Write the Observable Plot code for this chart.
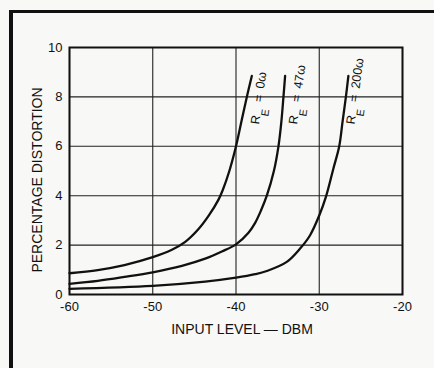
<!DOCTYPE html>
<html>
<head>
<meta charset="utf-8">
<script src="https://cdn.jsdelivr.net/npm/d3@7"></script>
<script src="https://cdn.jsdelivr.net/npm/@observablehq/plot@0.6"></script>
<style>
  html, body { margin: 0; padding: 0; background: #f8f8f6; }
  #wrap { position: relative; width: 434px; height: 368px; overflow: hidden; }
  #border { position: absolute; left: 9px; top: 10px; right: -10px; bottom: -10px;
            border-left: 4px solid #111; border-top: 3px solid #111; pointer-events: none; }
  #chart { position: absolute; left: 0; top: 0; }
</style>
</head>
<body>
<div id="wrap"><div id="chart"></div><div id="border"></div></div>
<script>
// Data
const xTicks = [-60, -50, -40, -30, -20];
const yTicks = [0, 2, 4, 6, 8, 10];

const seriesNames = ["R_E = 0ω", "R_E = 47ω", "R_E = 200ω"];

const inputLevel0 = [-60, -56.6, -53.4, -50, -47.7, -46.1, -44.5, -43.3, -42.1, -41.6, -40.8, -40.0, -39.35, -38.7, -38.1];
const distortion0 = [0.86, 0.99, 1.19, 1.51, 1.81, 2.13, 2.65, 3.18, 3.84, 4.22, 5.0, 6.0, 7.0, 8.0, 8.85];

const inputLevel47 = [-60, -56.6, -53.4, -50, -46.5, -43.7, -41.7, -40, -38.5, -37.7, -37.0, -36.3, -35.45, -34.9, -34.55, -34.3, -34.1];
const distortion47 = [0.43, 0.55, 0.71, 0.9, 1.16, 1.45, 1.74, 2.03, 2.5, 2.9, 3.4, 4.0, 5.0, 6.0, 7.0, 8.0, 8.85];

const inputLevel200 = [-60, -50, -43.7, -40, -37.7, -36.3, -33.9, -32.3, -31.1, -30, -29.2, -28.3, -27.6, -27.2, -26.8, -26.5];
const distortion200 = [0.23, 0.35, 0.52, 0.68, 0.82, 0.95, 1.32, 1.86, 2.4, 3.2, 3.95, 5.1, 6.0, 7.0, 8.0, 8.85];

// label anchor positions (data units)
const labelX = [-37.7, -33.15, -26.25];
const labelY = [6.9, 6.9, 6.9];

const rows = [];
[[inputLevel0, distortion0], [inputLevel47, distortion47], [inputLevel200, distortion200]].forEach(([xs, ys], i) => {
  xs.forEach((x, j) => rows.push({series: seriesNames[i], x, y: ys[j]}));
});
const labels = seriesNames.map((s, i) => ({text: s, x: labelX[i], y: labelY[i]}));

const fmt = d => (d < 0 ? "-" + Math.abs(d) : String(d));

const plot = Plot.plot({
  width: 434,
  height: 368,
  marginLeft: 69,
  marginRight: 32,
  marginTop: 47,
  marginBottom: 74,
  style: {fontFamily: "'Liberation Sans', Arial, sans-serif", fontSize: "13px", background: "transparent", color: "#111"},
  x: {domain: [-60, -20], ticks: xTicks, tickFormat: fmt, tickSize: 0, tickPadding: 7, label: null},
  y: {domain: [0, 10], ticks: yTicks, tickFormat: fmt, tickSize: 0, tickPadding: 7, label: null},
  marks: [
    Plot.ruleX(xTicks, {stroke: "#222", strokeWidth: 1.1}),
    Plot.ruleY(yTicks, {stroke: "#222", strokeWidth: 1.1}),
    Plot.frame({stroke: "#111", strokeWidth: 2}),
    Plot.line(rows, {x: "x", y: "y", z: "series", stroke: "#111", strokeWidth: 2.3, curve: "catmull-rom"}),
    Plot.text(labels, {x: "x", y: "y", text: "text", rotate: -82, textAnchor: "start", lineAnchor: "middle", fontSize: 12.5, fill: "#111"}),
    Plot.text(["PERCENTAGE DISTORTION"], {frameAnchor: "left", dx: -32, dy: 9, rotate: -90, textAnchor: "middle", fontSize: 14, fill: "#111"}),
    Plot.text(["INPUT LEVEL — DBM"], {frameAnchor: "bottom", dx: 6, dy: 39, textAnchor: "middle", fontSize: 14, fill: "#111"})
  ]
});

// turn "R_E" into R with a subscript E
d3.select(plot).selectAll("text").each(function() {
  const t = this.textContent;
  if (t.startsWith("R_E")) {
    const rest = t.slice(3).replace(/ /g, "\u2002");
    const el = d3.select(this);
    el.text(null);
    el.append("tspan").text("R");
    el.append("tspan").attr("dy", "0.75em").attr("font-size", "0.85em").text("E");
    el.append("tspan").attr("dy", "-0.64em").text(rest);
  }
});

document.getElementById("chart").appendChild(plot);
</script>
</body>
</html>
